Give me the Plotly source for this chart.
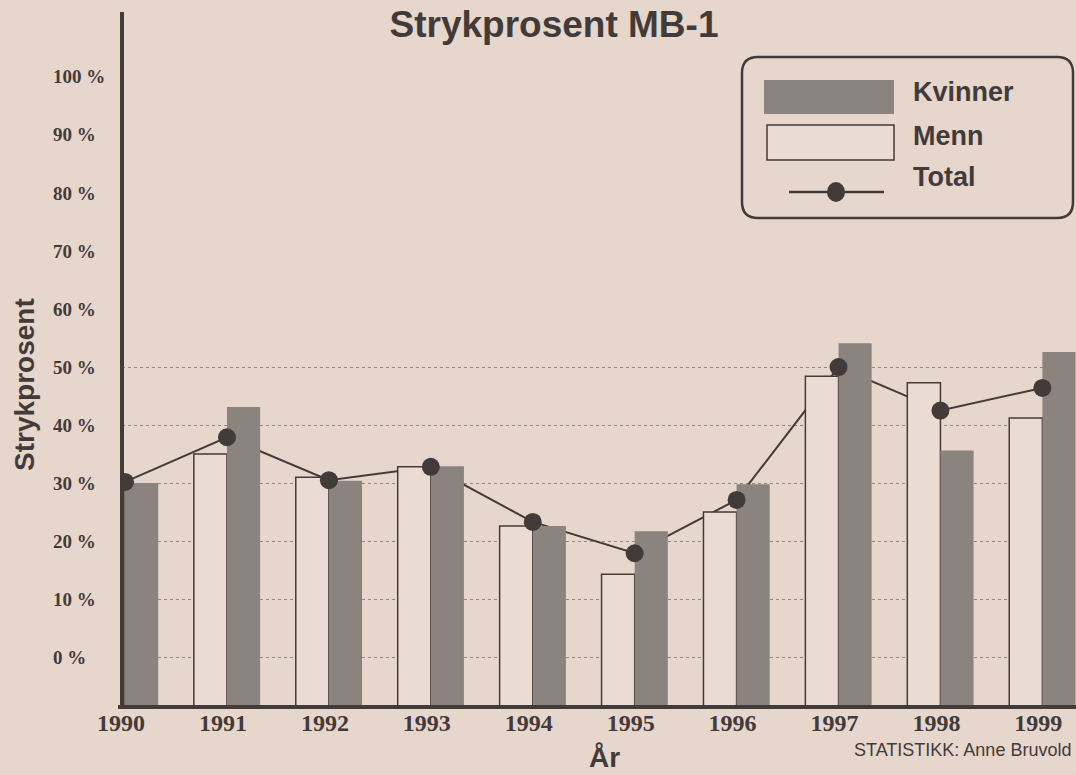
import plotly.graph_objects as go

# ---- data ----
years = [1990, 1991, 1992, 1993, 1994, 1995, 1996, 1997, 1998, 1999]
year_labels = [str(y) for y in years]
kvinner = [30.0, 43.1, 30.4, 32.9, 22.6, 21.7, 29.8, 54.1, 35.6, 52.6]
menn = [30.4, 35.0, 31.0, 32.8, 22.6, 14.3, 25.0, 48.4, 47.3, 41.2]
total = [30.2, 37.9, 30.5, 32.8, 23.3, 17.9, 27.1, 50.0, 42.5, 46.4]
y_tick_values = [0, 10, 20, 30, 40, 50, 60, 70, 80, 90, 100]
y_tick_labels = [f"{v} %" for v in y_tick_values]
grid_values = [v for v in y_tick_values if v <= 50]

# axis floor of the original drawing (bars rise from the floor, which lies below the 0 % line)
Y_MIN, Y_MAX = -8.6, 111.2

# ---- style ----
BG = "#e6d6cc"
MENN_FILL = "#eadcd3"
INK = "#433b39"
GREY = "#8b837e"
GRID = "#8f8784"

W, H = 1076, 775
L, R, T, B = 122, 0, 12, 68
PW, PH = W - L - R, H - T - B


def px(x):
    return (x - L) / PW


def py(y):
    return (H - B - y) / PH


SANS = "Liberation Sans, Arial, sans-serif"
SERIF = "Liberation Serif, Times New Roman, serif"

fig = go.Figure()

# total line (behind the bars)
fig.add_trace(go.Scatter(x=years, y=total, mode="lines", name="Total",
                         line=dict(color=INK, width=2), zorder=-1,
                         showlegend=False, hoverinfo="skip"))
fig.add_trace(go.Bar(x=years, y=[v - Y_MIN for v in menn], base=Y_MIN, name="Menn",
                     customdata=menn, hovertemplate="Menn %{x}: %{customdata} %<extra></extra>",
                     marker=dict(color=MENN_FILL, line=dict(color=INK, width=1.5)),
                     zorder=0, showlegend=False))
fig.add_trace(go.Bar(x=years, y=[v - Y_MIN for v in kvinner], base=Y_MIN, name="Kvinner",
                     customdata=kvinner, hovertemplate="Kvinner %{x}: %{customdata} %<extra></extra>",
                     marker=dict(color=GREY, line=dict(width=0)),
                     zorder=0, showlegend=False))
# total markers (in front)
fig.add_trace(go.Scatter(x=years, y=total, mode="markers", name="Total",
                         marker=dict(color=INK, size=18, line=dict(width=0)),
                         zorder=1, showlegend=False))

# ---- custom legend ----
def rounded_rect(x0, y0, x1, y1, r):
    pts = [("M", (x0 + r, y0)), ("L", (x1 - r, y0)), ("Q", (x1, y0), (x1, y0 + r)),
           ("L", (x1, y1 - r)), ("Q", (x1, y1), (x1 - r, y1)), ("L", (x0 + r, y1)),
           ("Q", (x0, y1), (x0, y1 - r)), ("L", (x0, y0 + r)), ("Q", (x0, y0), (x0 + r, y0))]
    s = ""
    for p in pts:
        s += p[0] + " " + " ".join(f"{px(a):.5f},{py(b):.5f}" for a, b in p[1:]) + " "
    return s + "Z"


shapes = [
    # axis lines
    dict(type="line", xref="paper", yref="paper", x0=px(122), x1=px(122), y0=py(706), y1=py(12),
         line=dict(color=INK, width=4), layer="above"),
    dict(type="line", xref="paper", yref="paper", x0=px(118), x1=px(1076), y0=py(707), y1=py(707),
         line=dict(color=INK, width=4), layer="above"),
    # legend
    dict(type="path", xref="paper", yref="paper", path=rounded_rect(742, 57, 1073, 218, 16),
         line=dict(color=INK, width=2.5), fillcolor="rgba(0,0,0,0)", layer="above"),
    dict(type="rect", xref="paper", yref="paper", x0=px(764), x1=px(894), y0=py(80), y1=py(114),
         fillcolor=GREY, line=dict(width=0), layer="above"),
    dict(type="rect", xref="paper", yref="paper", x0=px(767), x1=px(894), y0=py(125), y1=py(160),
         fillcolor=MENN_FILL, line=dict(color=INK, width=1.5), layer="above"),
    dict(type="line", xref="paper", yref="paper", x0=px(789), x1=px(884), y0=py(192), y1=py(192),
         line=dict(color=INK, width=2.5), layer="above"),
    dict(type="circle", xref="paper", yref="paper", x0=px(827), x1=px(845), y0=py(182), y1=py(202),
         fillcolor=INK, line=dict(width=0), layer="above"),
]

annotations = []
for name, yc in [("Kvinner", 92), ("Menn", 136), ("Total", 177)]:
    annotations.append(dict(text=name, xref="paper", yref="paper", x=px(911), y=py(yc),
                            xanchor="left", yanchor="middle", showarrow=False,
                            font=dict(family=SANS, size=27, color=INK, weight="bold")))

# y tick labels, left aligned like the original
for v, lab in zip(y_tick_values, y_tick_labels):
    annotations.append(dict(text=lab, xref="paper", yref="y", x=px(51), y=v,
                            xanchor="left", yanchor="middle", showarrow=False,
                            font=dict(family=SERIF, size=19, color=INK, weight="bold")))

annotations += [
    dict(text="Strykprosent", xref="paper", yref="paper", x=px(25), y=py(385), textangle=-90,
         xanchor="center", yanchor="middle", showarrow=False,
         font=dict(family=SANS, size=28, color=INK, weight="bold")),
    dict(text="År", xref="paper", yref="paper", x=px(604), y=py(758),
         xanchor="center", yanchor="middle", showarrow=False,
         font=dict(family=SANS, size=28, color=INK, weight="bold")),
    dict(text="STATISTIKK: Anne Bruvold", xref="paper", yref="paper", x=px(1073), y=py(750),
         xanchor="right", yanchor="middle", showarrow=False,
         font=dict(family=SANS, size=18, color=INK)),
]

fig.update_layout(
    width=W, height=H,
    margin=dict(l=L, r=R, t=T, b=B, pad=0),
    paper_bgcolor=BG, plot_bgcolor=BG,
    barmode="group", bargap=0.35, bargroupgap=0,
    showlegend=False,
    title=dict(text="Strykprosent MB-1", xref="container", yref="container",
               x=554 / W, y=1 - 24 / H, xanchor="center", yanchor="middle",
               font=dict(family=SANS, size=37, color=INK, weight="bold")),
    shapes=shapes,
    annotations=annotations,
)
fig.update_xaxes(range=[1989.97, 1999.33], tickmode="array", tickvals=years, ticktext=year_labels,
                 showgrid=False, zeroline=False, showline=False,
                 ticks="", ticklabelshift=-4, ticklabelstandoff=-1,
                 tickfont=dict(family=SERIF, size=24, color=INK, weight="bold"))
fig.update_yaxes(range=[Y_MIN, Y_MAX], tickmode="array", tickvals=grid_values,
                 showticklabels=False, showgrid=True, gridcolor=GRID, gridwidth=1.2, griddash="dot",
                 zeroline=False, showline=False, ticks="")

fig.write_html("out.html", config={"displayModeBar": False},
               post_script="document.body.style.margin='0';")
